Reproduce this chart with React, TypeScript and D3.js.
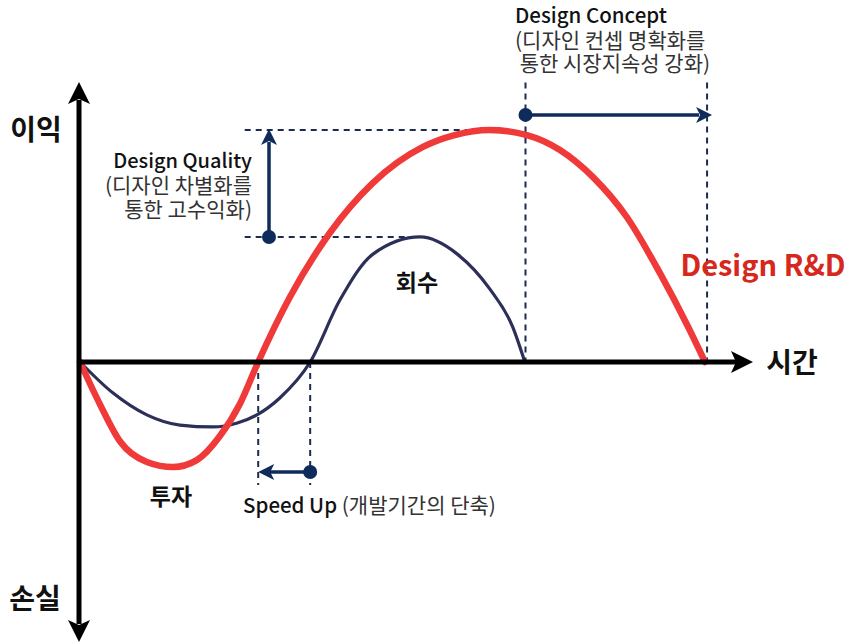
import React from "react";
import * as d3 from "d3";

// ---- data (time units 0..100, profit units -100..100) ----
const redTime = [0, 3.0, 6.0, 9.9, 13.8, 17.3, 20.7, 23.7, 26.4, 31.1, 37.0, 43.4, 50.8, 55.5, 60.7, 66.2, 71.1, 76.0, 81.0, 85.9, 90.1, 92.6];
const redProfit = [0, -18.5, -34.5, -43.1, -45.3, -42.3, -32.0, -18.0, 0, 28, 55.6, 77.2, 92.7, 97.8, 100, 97.8, 91.4, 79.7, 62.5, 38.4, 15.1, 0];
const navyTime = [0, 4.9, 9.9, 14.8, 19.7, 23.3, 26.2, 29.6, 34.1, 38.5, 43.4, 50.4, 55.9, 60.7, 64.1, 65.9];
const navyProfit = [0, -13.4, -22.8, -27.2, -28, -26.3, -22.8, -15.5, 0, 26.7, 46.5, 53.9, 46.5, 31.5, 15.1, 0];

// key reference values
const redZeroT = 26.4;
const navyZeroT = 34.1;
const navyEndT = 66.0;
const redEndT = 92.9;
const redPeakP = 100;
const navyPeakP = 53.9;
const navyPeakT = 50.4;
const redPeakT = 59.5;

const labels = {
  profit: "이익",
  loss: "손실",
  time: "시간",
  rd: "Design R&D",
  recover: "회수",
  invest: "투자",
  qualityTitle: "Design Quality",
  qualityLines: ["(디자인 차별화를", "통한 고수익화)"],
  conceptTitle: "Design Concept",
  conceptLines: ["(디자인 컨셉 명확화를", " 통한 시장지속성 강화)"],
  speedTitle: "Speed Up",
  speedSub: " (개발기간의 단축)",
};

const W = 851;
const H = 644;
const FONT = "'Noto Sans CJK KR', 'Noto Sans', sans-serif";
const RED = "#f03a3a";
const RED_TEXT = "#d6281c";
const NAVY_CURVE = "#2c2f57";
const NAVY = "#0f2b5c";
const DASH = "#1c2b4f";

export default function App() {
  const x = d3.scaleLinear().domain([0, 100]).range([80, 755]);
  const y = d3.scaleLinear().domain([-100, 100]).range([594, 130]);

  const line = d3
    .line<[number, number]>()
    .x((d) => x(d[0]))
    .y((d) => y(d[1]))
    .curve(d3.curveMonotoneX);

  const redPts: [number, number][] = redTime.map((t, i) => [t, redProfit[i]]);
  const navyPts: [number, number][] = navyTime.map((t, i) => [t, navyProfit[i]]);

  const x0 = x(0) - 1;
  const y0 = y(0);

  // arrowhead path: tip at (0,0) pointing in +x direction
  const head = (len: number, half: number, notch: number) =>
    `M0,0 L${-len},${-half} L${-len + notch},0 L${-len},${half} Z`;

  const axisHead = head(22, 11, 5);
  const smallHead = head(16, 8, 4);

  const qX = x(28);
  const conceptY = y(106.5);
  const speedY = y(-47.4);

  return (
    <svg
      width={W}
      height={H}
      style={{ position: "absolute", left: 0, top: 0, background: "#fff" }}
      fontFamily={FONT}
    >
      {/* dashed guides */}
      <g stroke={DASH} strokeWidth={2} strokeDasharray="6,5" fill="none">
        <line x1={x(24.4)} x2={x(redPeakT)} y1={y(redPeakP)} y2={y(redPeakP)} />
        <line x1={x(24.4)} x2={x(navyPeakT)} y1={y(navyPeakP)} y2={y(navyPeakP)} />
        <line x1={x(redZeroT)} x2={x(redZeroT)} y1={y0} y2={y(-53)} />
        <line x1={x(navyZeroT)} x2={x(navyZeroT)} y1={y0} y2={y(-53)} />
        <line x1={x(navyEndT)} x2={x(navyEndT)} y1={y(120.5)} y2={y0} />
        <line x1={x(redEndT)} x2={x(redEndT)} y1={y(120.5)} y2={y0} />
      </g>

      {/* curves */}
      <path d={line(navyPts) || ""} fill="none" stroke={NAVY_CURVE} strokeWidth={3.2} />
      <path d={line(redPts) || ""} fill="none" stroke={RED} strokeWidth={6.5} strokeLinecap="round" />

      {/* axes */}
      <g fill="#000" stroke="#000">
        <line x1={x0} x2={x0} y1={100} y2={624} strokeWidth={5} />
        <path d={axisHead} transform={`translate(${x0},82) rotate(-90)`} stroke="none" />
        <path d={axisHead} transform={`translate(${x0},642) rotate(90)`} stroke="none" />
        <line x1={x0} x2={736} y1={y0} y2={y0} strokeWidth={5} />
        <path d={axisHead} transform={`translate(753,${y0})`} stroke="none" />
      </g>

      {/* Design Quality arrow */}
      <g fill={NAVY} stroke={NAVY}>
        <line x1={qX} x2={qX} y1={y(navyPeakP)} y2={y(redPeakP) + 12} strokeWidth={3.5} />
        <path d={smallHead} transform={`translate(${qX},${y(redPeakP) - 1}) rotate(-90)`} stroke="none" />
        <circle cx={qX} cy={y(navyPeakP)} r={7} stroke="none" />
      </g>

      {/* Design Concept arrow */}
      <g fill={NAVY} stroke={NAVY}>
        <line x1={x(navyEndT)} x2={x(redEndT) - 8} y1={conceptY} y2={conceptY} strokeWidth={3.5} />
        <path d={smallHead} transform={`translate(${x(redEndT) + 5},${conceptY})`} stroke="none" />
        <circle cx={x(navyEndT)} cy={conceptY} r={7} stroke="none" />
      </g>

      {/* Speed Up arrow */}
      <g fill={NAVY} stroke={NAVY}>
        <line x1={x(navyZeroT)} x2={x(redZeroT) + 10} y1={speedY} y2={speedY} strokeWidth={3.5} />
        <path d={smallHead} transform={`translate(${x(redZeroT)},${speedY}) rotate(180)`} stroke="none" />
        <circle cx={x(navyZeroT)} cy={speedY} r={7} stroke="none" />
      </g>

      {/* axis labels */}
      <g fontWeight={700} fill="#111" fontSize={28}>
        <text x={36} y={140} textAnchor="middle">{labels.profit}</text>
        <text x={35} y={609} textAnchor="middle">{labels.loss}</text>
        <text x={792} y={373} textAnchor="middle">{labels.time}</text>
      </g>

      <text x={763} y={276} textAnchor="middle" fontSize={29} fontWeight={700} fill={RED_TEXT}>
        {labels.rd}
      </text>
      <text x={417} y={291} textAnchor="middle" fontSize={23} fontWeight={700} fill="#111">
        {labels.recover}
      </text>
      <text x={171} y={505} textAnchor="middle" fontSize={23} fontWeight={700} fill="#111">
        {labels.invest}
      </text>

      {/* Design Quality text */}
      <g textAnchor="end" fill="#222">
        <text x={252} y={168} fontSize={20} fontWeight={500} fill="#111">{labels.qualityTitle}</text>
        {labels.qualityLines.map((s, i) => (
          <text key={s} x={252} y={193 + i * 24} fontSize={21} fill="#333" fontWeight={400}>
            {s}
          </text>
        ))}
      </g>

      {/* Design Concept text */}
      <g fill="#222">
        <text x={515} y={23} fontSize={20.5} fontWeight={500} fill="#111">{labels.conceptTitle}</text>
        {labels.conceptLines.map((s, i) => (
          <text key={s} x={515} y={48 + i * 23} fontSize={21} fill="#333" fontWeight={400} style={{ whiteSpace: "pre" }}>
            {s}
          </text>
        ))}
      </g>

      {/* Speed Up text */}
      <text x={243} y={513} fontSize={20.5} style={{ whiteSpace: "pre" }}>
        <tspan fill="#111" fontWeight={500}>{labels.speedTitle}</tspan>
        <tspan fill="#333" fontSize={21} fontWeight={400}>{labels.speedSub}</tspan>
      </text>
    </svg>
  );
}
